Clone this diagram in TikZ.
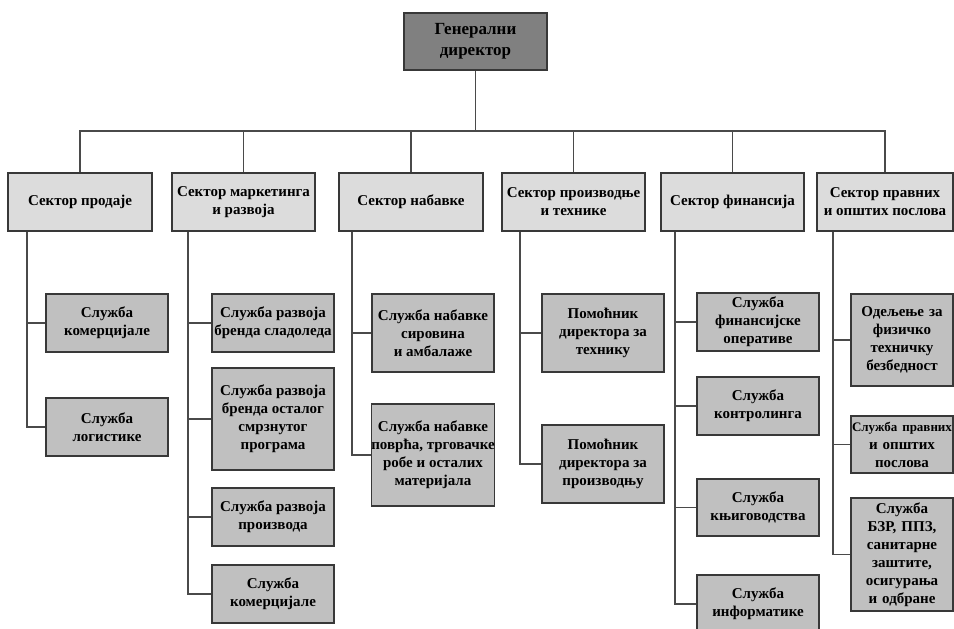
\documentclass[tikz,border=0pt]{standalone}
\usepackage{fontspec}
\setmainfont{Liberation Serif}
\definecolor{topfill}{HTML}{808080}
\definecolor{secfill}{HTML}{DCDCDC}
\definecolor{subfill}{HTML}{C0C0C0}
\definecolor{edgec}{HTML}{383838}
\definecolor{linec}{HTML}{4A4A4A}
\begin{document}
\begin{tikzpicture}[x=1pt,y=-1pt,
  box/.style={draw=edgec, line width=1.4pt, inner sep=0pt, align=center,
    font=\bfseries\fontsize{15}{18}\selectfont},
  topbox/.style={box, fill=topfill, minimum width=143, minimum height=57,
    font=\bfseries\fontsize{17}{21}\selectfont},
  secbox/.style={box, fill=secfill, minimum width=143, minimum height=58},
  subbox/.style={box, fill=subfill, minimum width=122},
  narrowbox/.style={box, fill=subfill, text width=102pt},
  conn/.style={draw=linec, line width=1.2pt}]
\useasboundingbox (0,0) rectangle (954,629);
\fill[white] (0,0) rectangle (954,629);

\node[topbox] (top) at (475.5,41.5) {Генерални\\директор};

\node[secbox, minimum width=144] (S1) at (80,202) {Сектор продаје};
\node[secbox] (S2) at (243.5,202) {Сектор маркетинга\\и развоја};
\node[secbox, minimum width=144] (S3) at (411,202) {Сектор набавке};
\node[secbox] (S4) at (573.5,202) {Сектор производње\\и технике};
\node[secbox] (S5) at (732.5,202) {Сектор финансија};
\node[secbox, minimum width=136] (S6) at (885,202) {Сектор правних\\и општих послова};

% column 1
\node[subbox, minimum height=58] (C1a) at (107,323) {Служба\\комерцијале};
\node[subbox, minimum height=58] (C1b) at (107,427) {Служба\\логистике};
% column 2
\node[subbox, minimum height=58] (C2a) at (273,323) {Служба развоја\\бренда сладоледа};
\node[subbox, minimum height=102] (C2b) at (273,419) {Служба развоја\\бренда осталог\\смрзнутог\\програма};
\node[subbox, minimum height=58] (C2c) at (273,517) {Служба развоја\\производа};
\node[subbox, minimum height=58] (C2d) at (273,594) {Служба\\комерцијале};
% column 3
\node[subbox, minimum height=78] (C3a) at (433,333) {Служба набавке\\сировина\\и амбалаже};
\node[subbox, minimum height=102] (C3b) at (433,455) {Служба набавке\\поврћа, трговачке\\робе и осталих\\материјала};
% column 4
\node[subbox, minimum height=78] (C4a) at (603,333) {Помоћник\\директора за\\технику};
\node[subbox, minimum height=78] (C4b) at (603,464) {Помоћник\\директора за\\производњу};
% column 5
\node[subbox, minimum height=58] (C5a) at (758,322) {Служба\\финансијске\\оперативе};
\node[subbox, minimum height=58] (C5b) at (758,406) {Служба\\контролинга};
\node[subbox, minimum height=57] (C5c) at (758,507.5) {Служба\\књиговодства};
\node[subbox, minimum height=58] (C5d) at (758,604) {Служба\\информатике};
% column 6
\node[narrowbox, minimum height=92] (C6a) at (902,340) {Одељење за\\физичко\\техничку\\безбедност};
\node[narrowbox, minimum height=57] (C6b) at (902,444.5) {{\fontsize{13}{18}\selectfont Служба правних}\\и општих\\послова};
\node[narrowbox, minimum height=113] (C6c) at (902,554.5) {Служба\\БЗР, ППЗ,\\санитарне\\заштите,\\осигурања\\и одбране};

% top connectors
\coordinate (bus) at (0,131);
\draw[conn] (top.south) -- (top.south |- bus);
\draw[conn] (S1.north) -- (S1.north |- bus) -- (S6.north |- bus) -- (S6.north);
\foreach \s in {S2,S3,S4,S5} \draw[conn] (\s.north) -- (\s.north |- bus);

% column lines
\coordinate (v1) at (27,0);
\coordinate (v2) at (188,0);
\coordinate (v3) at (352,0);
\coordinate (v4) at (520,0);
\coordinate (v5) at (675,0);
\coordinate (v6) at (833,0);

\draw[conn] (S1.south -| v1) |- (C1b.west);
\draw[conn] (v1 |- C1a.west) -- (C1a.west);

\draw[conn] (S2.south -| v2) |- (C2d.west);
\foreach \c in {C2a,C2b,C2c} \draw[conn] (v2 |- \c.west) -- (\c.west);

\draw[conn] (S3.south -| v3) |- (C3b.west);
\draw[conn] (v3 |- C3a.west) -- (C3a.west);

\draw[conn] (S4.south -| v4) |- (C4b.west);
\draw[conn] (v4 |- C4a.west) -- (C4a.west);

\draw[conn] (S5.south -| v5) |- (C5d.west);
\foreach \c in {C5a,C5b,C5c} \draw[conn] (v5 |- \c.west) -- (\c.west);

\draw[conn] (S6.south -| v6) |- (C6c.west);
\foreach \c in {C6a,C6b} \draw[conn] (v6 |- \c.west) -- (\c.west);
\end{tikzpicture}
\end{document}
